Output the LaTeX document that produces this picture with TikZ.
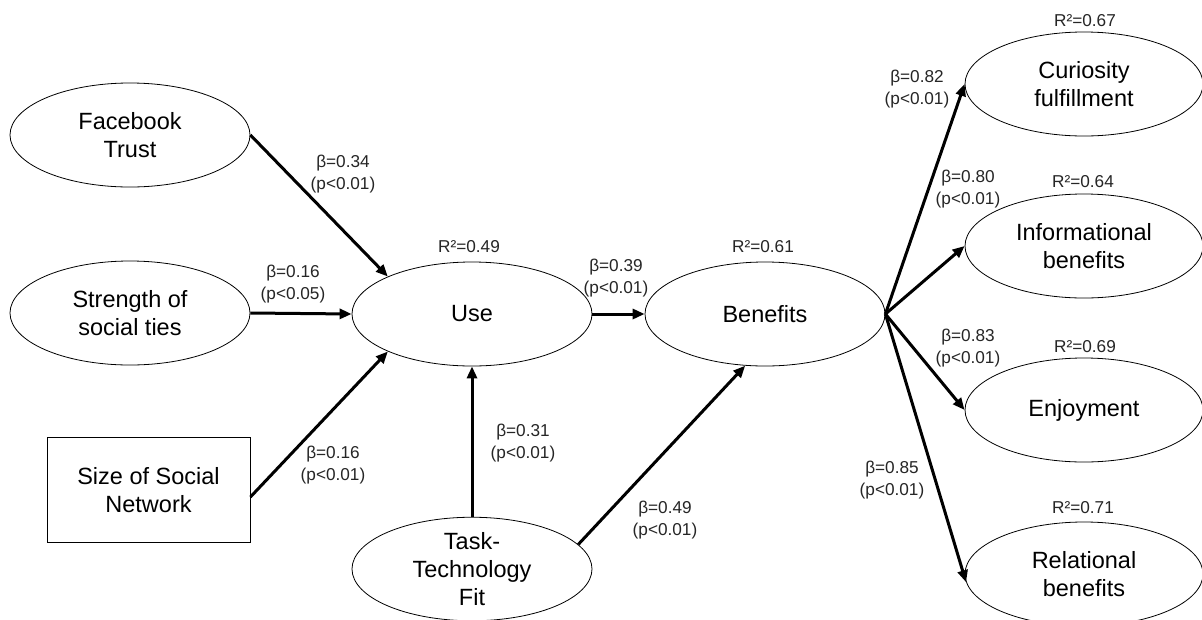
\documentclass[tikz,border=0pt]{standalone}
\usepackage{fontspec}
\setmainfont{Liberation Sans}
\usetikzlibrary{shapes.geometric,arrows.meta}
\begin{document}
\begin{tikzpicture}[x=1pt,y=-1pt,
  latent/.style={ellipse,draw,line width=0.8pt,minimum width=240pt,minimum height=104pt,inner sep=0pt,align=center,font=\fontsize{23.5}{28}\selectfont},
  obsbox/.style={rectangle,draw,line width=0.8pt,minimum width=203pt,minimum height=105pt,inner sep=0pt,align=center,font=\fontsize{23.5}{28}\selectfont},
  path/.style={line width=3pt,-{Triangle[length=12pt,width=10pt]}},
  lbl/.style={align=center,font=\fontsize{17.2}{22}\selectfont,text=black!85,inner sep=0pt}]
\clip (0,0) rectangle (1202,619);
\fill[white] (0,0) rectangle (1202,619);
% nodes
\node[latent] (fb) at (130,135) {Facebook\\Trust};
\node[latent] (st) at (130,313) {Strength of\\social ties};
\node[obsbox] (sz) at (148.5,490) {Size of Social\\Network};
\node[latent] (use) at (472,314) {Use};
\node[latent] (ben) at (765,314) {Benefits};
\node[latent,minimum height=100pt] (ttf) at (472,569) {Task-\\Technology\\Fit};
\node[latent,minimum width=238pt] (cur) at (1084,84) {Curiosity\\fulfillment};
\node[latent,minimum width=238pt] (inf) at (1084,246) {Informational\\benefits};
\node[latent,minimum width=238pt] (enj) at (1084,410) {Enjoyment};
\node[latent,minimum width=238pt] (rel) at (1084,574) {Relational\\benefits};
% connectors
\draw[path] (fb.east) -- (use.156);
\draw[path] (st.east) -- (use.west);
\draw[path] ([yshift=-7pt]sz.east) -- (use.204);
\draw[path] (ttf.north) -- (use.south);
\draw[path] (use.east) -- (ben.west);
\draw[path] (ttf.13) -- (ben.249);
\draw[path] (ben.east) -- (cur.west);
\draw[path] (ben.east) -- (inf.west);
\draw[path] (ben.east) -- (enj.west);
\draw[path] (ben.east) -- (rel.184);
% labels
\node[lbl] (l1) at (343,174) {β=0.34\\(p<0.01)};
\node[lbl] (l2) at (293,284) {β=0.16\\(p<0.05)};
\node[lbl] (l3) at (333,465) {β=0.16\\(p<0.01)};
\node[lbl] (r1) at (469,247) {R²=0.49};
\node[lbl] (l4) at (616,278) {β=0.39\\(p<0.01)};
\node[lbl] (l5) at (523,443) {β=0.31\\(p<0.01)};
\node[lbl] (l6) at (665,520) {β=0.49\\(p<0.01)};
\node[lbl] (r2) at (763,247) {R²=0.61};
\node[lbl] (l7) at (892,480) {β=0.85\\(p<0.01)};
\node[lbl] (l8) at (917,89) {β=0.82\\(p<0.01)};
\node[lbl] (l9) at (968,189) {β=0.80\\(p<0.01)};
\node[lbl] (l10) at (968,348) {β=0.83\\(p<0.01)};
\node[lbl] (r3) at (1085,21) {R²=0.67};
\node[lbl] (r4) at (1083,182) {R²=0.64};
\node[lbl] (r5) at (1085,347) {R²=0.69};
\node[lbl] (r6) at (1083,508) {R²=0.71};
\end{tikzpicture}
\end{document}
